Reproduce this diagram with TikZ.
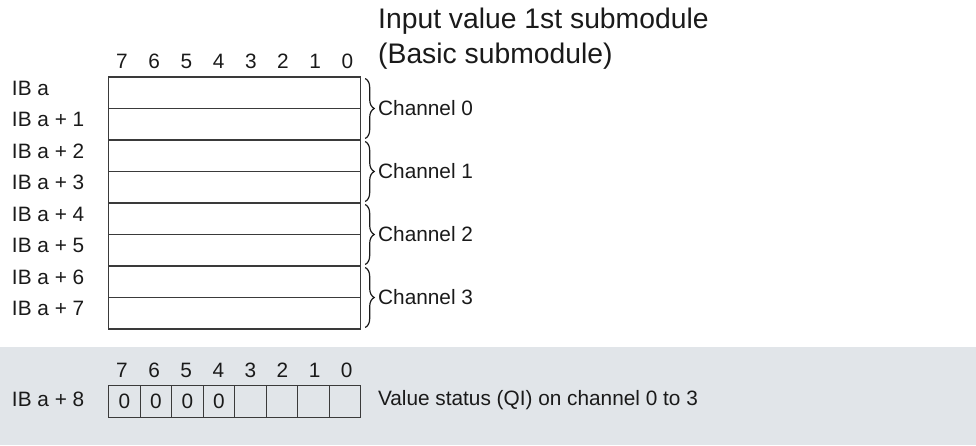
\documentclass[tikz,border=0pt]{standalone}
\usepackage{fontspec}
\setmainfont{Liberation Sans}
\usetikzlibrary{decorations.pathreplacing,calc}
\definecolor{inkc}{HTML}{1A1A1A}
\definecolor{linec}{HTML}{3A3A3A}
\definecolor{bandc}{HTML}{E1E5E9}
\tikzset{
  smalltxt/.style={font=\fontsize{20.8}{24}\selectfont, text=inkc, inner sep=0pt, outer sep=0pt},
  titletxt/.style={font=\fontsize{28.3}{32}\selectfont, text=inkc, inner sep=0pt, anchor=base west},
  rowbox/.style={draw=linec, line width=1.2pt, fill=white, minimum width=252pt, minimum height=31.5pt, inner sep=0pt, outer sep=0pt},
  bitcell/.style={draw=linec, line width=1.2pt, minimum width=31.5pt, minimum height=32pt, inner sep=0pt, outer sep=0pt, font=\fontsize{20.8}{24}\selectfont, text=inkc},
  chbrace/.style={draw=inkc, line width=1.2pt, decorate, decoration={brace, amplitude=9pt}},
}
\begin{document}
\begin{tikzpicture}[x=1pt,y=-1pt]
\useasboundingbox (0,0) rectangle (976,445);
\fill[white] (0,0) rectangle (976,445);
% grey band behind the status byte
\fill[bandc] (0,347) rectangle (976,445);

% heading
\node[titletxt] (t1) at (378,28.5) {Input value 1st submodule};
\node[titletxt] (t2) at (378,63) {(Basic submodule)};

% bit numbers above the data bytes
\foreach \b [count=\i from 0] in {7,6,5,4,3,2,1,0} {
  \node[smalltxt, anchor=base] (h\b) at (122+32.2*\i,68) {\b};
}

% eight input bytes
\foreach \r in {0,...,7} {
  \node[rowbox] (r\r) at (234.2,92.75+31.5*\r) {};
}
\node[smalltxt, anchor=base west] (l0) at (12,95) {IB a};
\foreach \r in {1,...,7} {
  \node[smalltxt, anchor=base west] (l\r) at (12,95+31.5*\r) {IB a + \r};
}

% channel braces and labels
\foreach \c/\a/\z in {0/0/1,1/2/3,2/4/5,3/6/7} {
  \draw[chbrace] ([xshift=5pt,yshift=-1.5pt]r\a.north east) -- ([xshift=5pt,yshift=1.5pt]r\z.south east);
  \node[smalltxt, anchor=west] (c\c) at ([xshift=18pt]r\a.south east) {Channel \c};
}

% status byte
\node[smalltxt, anchor=base west] (l8) at (12,406) {IB a + 8};
\foreach \b [count=\i from 0] in {7,6,5,4,3,2,1,0} {
  \node[smalltxt, anchor=base] (s\b) at (122+32.1*\i,377) {\b};
}
\foreach \b [count=\i from 0] in {7,6,5,4} {
  \node[bitcell] (q\b) at (124.45+31.5*\i,401.3) {0};
}
\foreach \b [count=\i from 4] in {3,2,1,0} {
  \node[bitcell] (q\b) at (124.45+31.5*\i,401.3) {};
}
\node[smalltxt, anchor=base west] (qi) at (378,405) {Value status (QI) on channel 0 to 3};
\end{tikzpicture}
\end{document}
